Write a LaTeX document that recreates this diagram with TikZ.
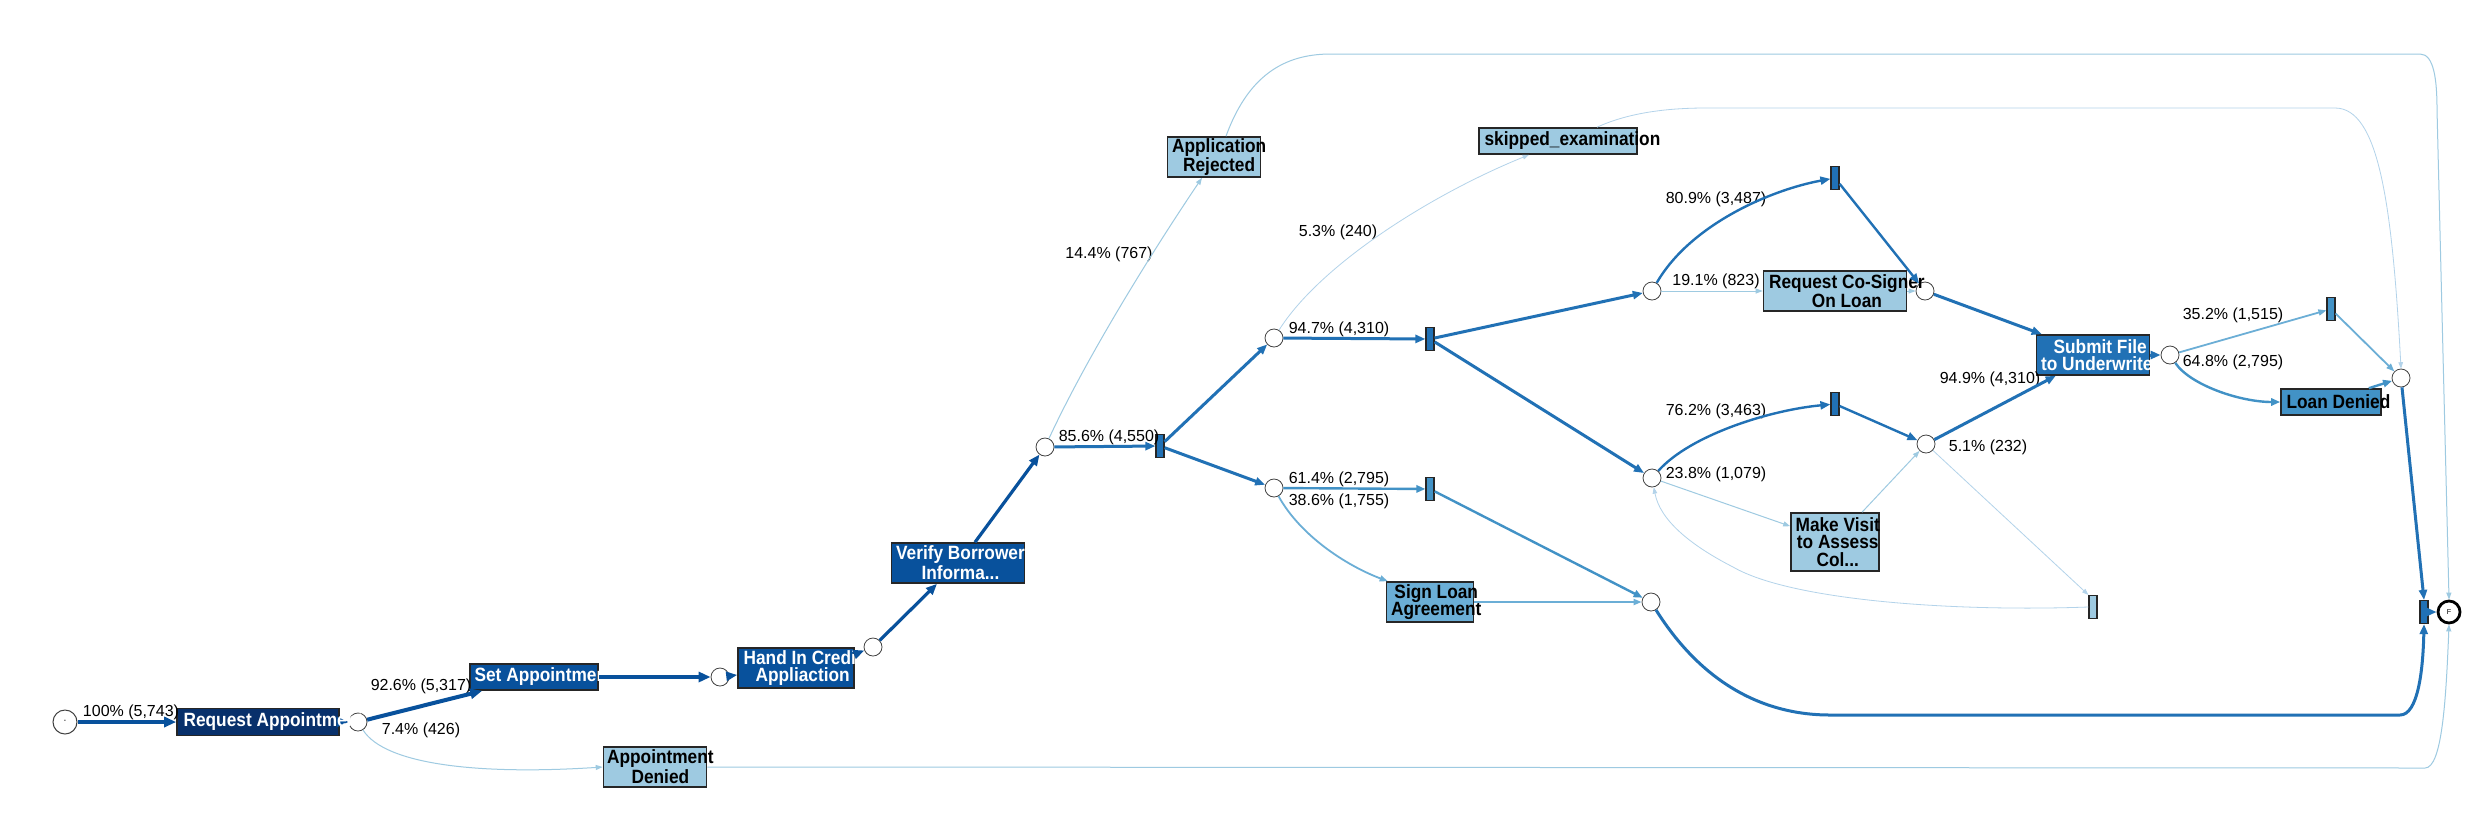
\documentclass[tikz,border=0pt]{standalone}
\usepackage{fontspec}
\setmainfont{Liberation Sans}
\newfontfamily\boxff{Liberation Sans}[FakeStretch=0.9]
\usetikzlibrary{arrows.meta,calc}
\definecolor{bA}{HTML}{08306B}
\definecolor{bB}{HTML}{08519C}
\definecolor{bC}{HTML}{2171B5}
\definecolor{bD}{HTML}{4292C6}
\definecolor{bE}{HTML}{6BAED6}
\definecolor{bF}{HTML}{9ECAE1}
\definecolor{bG}{HTML}{B3D3EA}
\newcommand{\bxfont}{\boxff\fontsize{9.6}{8.7}\selectfont\bfseries}
\newcommand{\lbfont}{\fontsize{8}{9.6}\selectfont}
\begin{document}
\begin{tikzpicture}[x=0.5pt,y=-0.5pt,
  circ/.style={circle,draw=black!75,line width=0.4pt,fill=white,minimum size=9pt,inner sep=0pt},
  bar/.style={rectangle,draw=black!85,line width=0.6pt,minimum width=4pt,minimum height=11.5pt,inner sep=0pt,fill=#1},
  act/.style={rectangle,draw=black!85,line width=0.8pt,inner sep=0pt,fill=#1},
  tw/.style={anchor=west,inner sep=0pt,align=center,font=\bxfont,text=white},
  tb/.style={anchor=west,inner sep=0pt,align=center,font=\bxfont,text=black},
  lbl/.style={inner sep=0pt,font=\lbfont,text=black},
  eA/.style={draw=bB,line width=2pt,-{Triangle[length=6pt,width=5pt]}},
  eB/.style={draw=bB,line width=1.6pt,-{Triangle[length=5.5pt,width=4.5pt]}},
  eC/.style={draw=bC,line width=1.5pt,-{Triangle[length=5pt,width=4pt]}},
  eD/.style={draw=bC,line width=1.2pt,-{Triangle[length=5pt,width=4pt]}},
  eE/.style={draw=bD,line width=1.2pt,-{Triangle[length=4.5pt,width=3.6pt]}},
  eF/.style={draw=bE,line width=0.9pt,-{Triangle[length=4pt,width=3pt]}},
  eG/.style={draw=bF,line width=0.5pt,-{Triangle[length=3.5pt,width=2.5pt]}},
  eH/.style={draw=bG,line width=0.4pt,-{Triangle[length=3.2pt,width=2.3pt]}}
]
\useasboundingbox[fill=white] (0,0) rectangle (2472,820);

% start / end
\node[circ,minimum size=12pt,line width=0.5pt,font=\fontsize{5}{5}\selectfont] (S) at (65,722) {·};
\node[circ,minimum size=11pt,draw=black,line width=1.4pt,font=\fontsize{3.6}{4}\selectfont] (F) at (2449,612) {F};

% xor circles
\node[circ] (c1) at (358,722) {};
\node[circ] (c2) at (720,677) {};
\node[circ] (c3) at (873,647) {};
\node[circ] (c4) at (1045,447) {};
\node[circ] (c5) at (1274,338) {};
\node[circ] (c6) at (1274,488) {};
\node[circ] (c7) at (1651,602) {};
\node[circ] (c8) at (1652,291) {};
\node[circ] (c9) at (1925,291) {};
\node[circ] (c10) at (1652,478) {};
\node[circ] (c11) at (1926,444) {};
\node[circ] (c12) at (2170,355) {};
\node[circ] (c13) at (2401,378) {};

% and bars
\node[bar=bC] (b1) at (1160,446) {};
\node[bar=bC] (b2) at (1430,339) {};
\node[bar=bD] (b3) at (1430,489) {};
\node[bar=bC] (b4) at (1835,178) {};
\node[bar=bC] (b5) at (1835,404) {};
\node[bar=bF] (b6) at (2093,607) {};
\node[bar=bD] (b7) at (2331,309) {};
\node[bar=bC] (b8) at (2424,612) {};

% activities
\node[act=bA,minimum width=81pt,minimum height=13.5pt] (ra) at (258,722) {};
\draw[eA] (ra) -- (c1);
\node[tw] (ra-t) at ($(ra.west)+(7,0)$) {Request Appointment};
\node[act=bB,minimum width=64pt,minimum height=13pt] (sa) at (534,677) {};
\node[tw] (sa-t) at ($(sa.west)+(5,0)$) {Set Appointment};
\node[act=bB,minimum width=58pt,minimum height=20pt] (hi) at (796,668) {};
\node[tw] (hi-t) at ($(hi.west)+(6,0)$) {Hand In Credit\\Appliaction};
\node[act=bB,minimum width=66.5pt,minimum height=20pt] (vb) at (958,563) {};
\node[tw] (vb-t) at ($(vb.west)+(5,0)$) {Verify Borrower\\Informa...};
\node[act=bF,minimum width=46.5pt,minimum height=20pt] (ar) at (1214,157) {};
\node[tb] (ar-t) at ($(ar.west)+(5,0)$) {Application\\Rejected};
\node[act=bF,minimum width=79pt,minimum height=13pt] (se) at (1558,141) {};
\node[tb] (se-t) at ($(se.west)+(6,0)$) {skipped\_examination};
\node[act=bE,minimum width=43.5pt,minimum height=20pt] (sl) at (1430,602) {};
\node[tb] (sl-t) at ($(sl.west)+(5,0)$) {Sign Loan\\Agreement};
\node[act=bF,minimum width=71.5pt,minimum height=20pt] (cs) at (1835,291) {};
\node[tb] (cs-t) at ($(cs.west)+(6,0)$) {Request Co-Signer\\On Loan};
\node[act=bF,minimum width=44pt,minimum height=29pt] (mv) at (1835,542) {};
\node[tb] (mv-t) at ($(mv.west)+(5,0)$) {Make Visit\\to Assess\\Col...};
\node[act=bC,minimum width=56.5pt,minimum height=20pt] (sf) at (2093,355) {};
\node[tw] (sf-t) at ($(sf.west)+(5,0)$) {Submit File\\to Underwriter};
\node[act=bD,minimum width=50pt,minimum height=13pt] (ld) at (2331,402) {};
\node[tb] (ld-t) at ($(ld.west)+(6,0)$) {Loan Denied};
\node[act=bF,minimum width=51.5pt,minimum height=20pt] (ad) at (655,767) {};
\node[tb] (ad-t) at ($(ad.west)+(4,0)$) {Appointment\\Denied};

% labels
\node[lbl] (l1) at (131,712) {100\% (5,743)};
\node[lbl] (l2) at (421,686) {92.6\% (5,317)};
\node[lbl] (l3) at (421,730) {7.4\% (426)};
\node[lbl] (l4) at (1109,254) {14.4\% (767)};
\node[lbl] (l5) at (1109,437) {85.6\% (4,550)};
\node[lbl] (l6) at (1338,232) {5.3\% (240)};
\node[lbl] (l7) at (1339,329) {94.7\% (4,310)};
\node[lbl] (l8) at (1339,479) {61.4\% (2,795)};
\node[lbl] (l9) at (1339,501) {38.6\% (1,755)};
\node[lbl] (l10) at (1716,199) {80.9\% (3,487)};
\node[lbl] (l11) at (1716,281) {19.1\% (823)};
\node[lbl] (l12) at (1716,411) {76.2\% (3,463)};
\node[lbl] (l13) at (1716,474) {23.8\% (1,079)};
\node[lbl] (l14) at (1990,379) {94.9\% (4,310)};
\node[lbl] (l15) at (1988,447) {5.1\% (232)};
\node[lbl] (l16) at (2233,315) {35.2\% (1,515)};
\node[lbl] (l17) at (2233,362) {64.8\% (2,795)};

% thick main flow
\draw[eA] (S) -- (ra);
\draw[eA] (c1) -- ($(sa.south west)+(13,0)$);
\draw[eA] (sa) -- (c2);
\draw[eB] (c2) -- (hi);
\draw[eB] ($(hi.north east)+(0,7)$) -- (c3);
\draw[eB] (c3) -- ($(vb.south)+(-21,0)$);
\draw[eB] ($(vb.north)+(17,0)$) -- (c4);
\draw[eC] (c4) -- (b1);
\draw[eC] (b1) -- (c5);
\draw[eC] (b1) -- (c6);
\draw[eC] (c5) -- (b2);
\draw[eC] (b2) -- (c8);
\draw[eC] (b2) -- (c10);
\draw[eD] (c8) .. controls (1690,225) and (1770,190) .. (b4);
\draw[eD] (b4) -- (c9);
\draw[eC] (c9) -- ($(sf.north west)+(6,0)$);
\draw[eD] (c10) .. controls (1690,435) and (1770,410) .. (b5);
\draw[eD] (b5) -- (c11);
\draw[eC] (c11) -- ($(sf.south west)+(20,0)$);
\draw[eC] (sf) -- (c12);
\draw[eE] (c6) -- (b3);
\draw[eE] (b3) -- (c7);
\draw[eF] (c6) .. controls (1300,535) and (1345,565) .. ($(sl.north west)+(2,0)$);
\draw[eF] (sl) -- (c7);
\draw[eC] (c7) .. controls (1700,680) and (1760,715) .. (1830,715) -- (2400,715) .. controls (2418,715) and (2423,670) .. (b8.south);
\draw[eF] (c12) -- (b7);
\draw[eE] (c12) .. controls (2190,385) and (2240,402) .. (ld.west);
\draw[eF] (b7) -- (c13);
\draw[eE] ($(ld.north east)+(-13,0)$) -- (c13);
\draw[eC] (c13) -- (b8.north);
\draw[eC] (b8) -- (F);

% thin flows
\draw[eG] (c1) .. controls (385,765) and (480,775) .. (ad.west);
\draw[eG] (ad.east) -- (2425,768) .. controls (2442,768) and (2446,700) .. (F.south);
\draw[eG] (c4) .. controls (1090,350) and (1160,240) .. ($(ar.south)+(-12,0)$);
\draw[eG] ($(ar.north)+(12,0)$) .. controls (1250,70) and (1290,54) .. (1331,54) -- (2420,54) .. controls (2434,54) and (2437,80) .. (2437,110) -- (F.north);
\draw[eH] (c5) .. controls (1320,265) and (1430,195) .. ($(se.south)+(-29,0)$);
\draw[eH] ($(se.north)+(39,0)$) .. controls (1630,112) and (1670,108) .. (1706,108) -- (2335,108) .. controls (2378,108) and (2392,200) .. (c13.north);
\draw[eG] (c8) -- (cs);
\draw[eG] (cs.east) -- (c9);
\draw[eG] (c10) -- ($(mv.north west)+(0,14)$);
\draw[eG] ($(mv.north)+(27,0)$) -- (c11);
\draw[eH] (c11) -- (b6.north west);
\draw[eH] (b6.west) .. controls (1950,612) and (1790,600) .. (1733,567) .. controls (1690,545) and (1660,520) .. (c10);
\end{tikzpicture}
\end{document}
